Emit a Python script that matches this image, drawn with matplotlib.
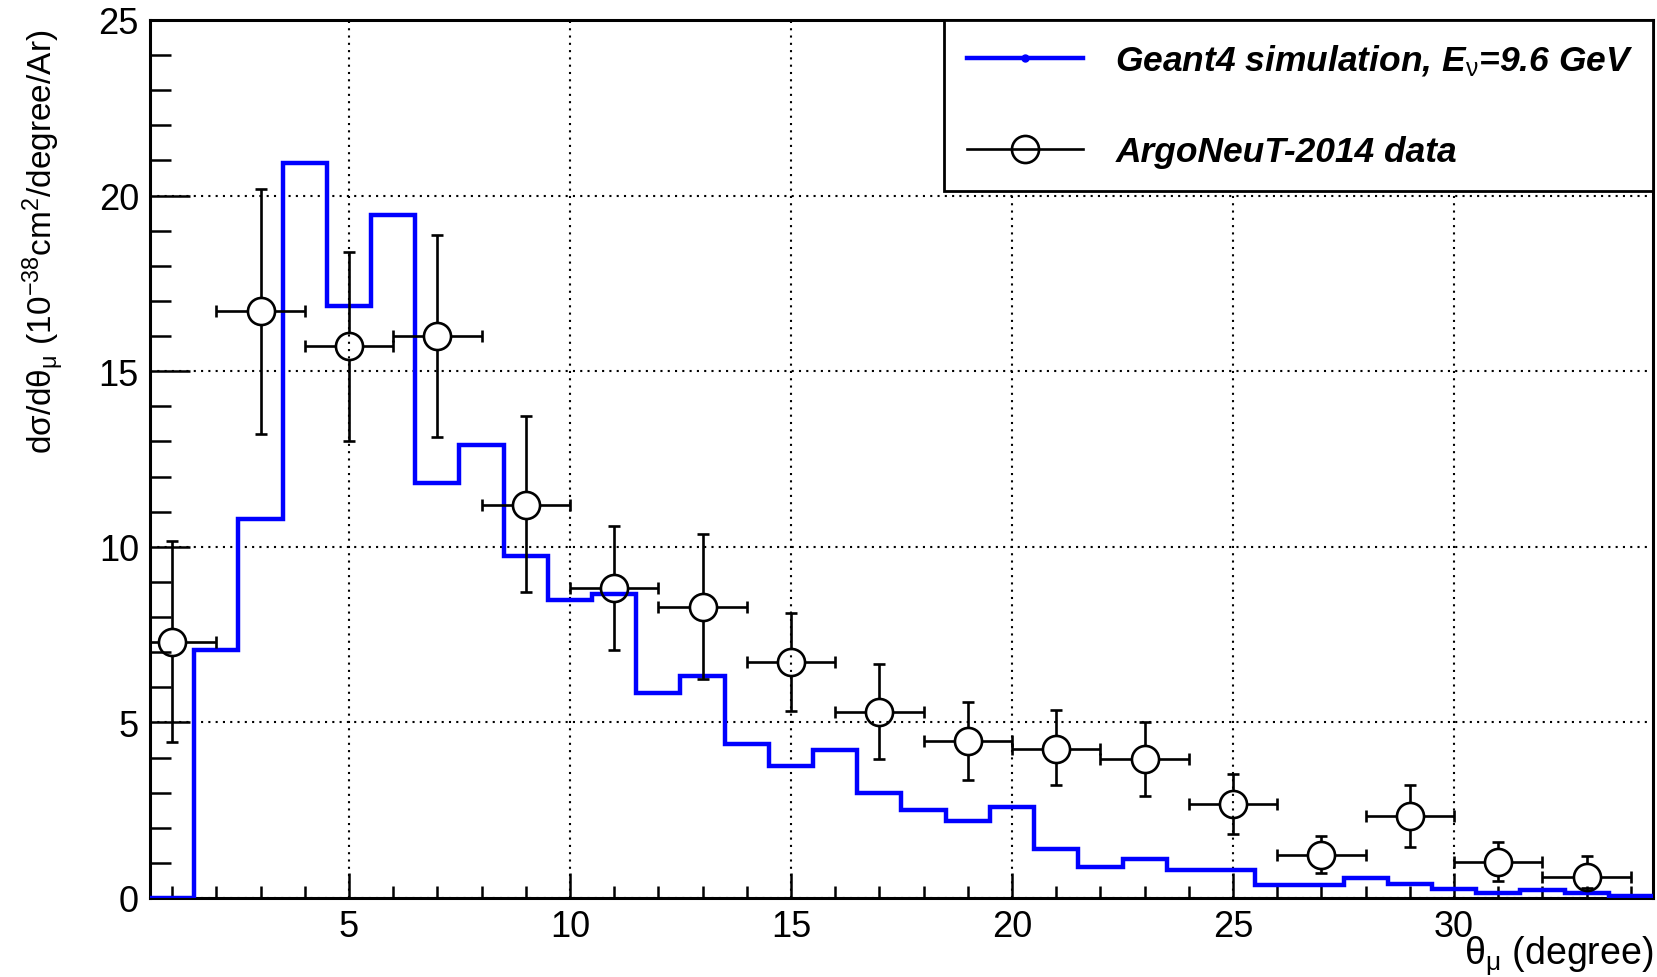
import numpy as np
import matplotlib
matplotlib.use('Agg')
import matplotlib.pyplot as plt
from matplotlib.lines import Line2D
from matplotlib.ticker import MultipleLocator

plt.rcParams['font.family'] = ['Liberation Sans', 'DejaVu Sans']
plt.rcParams['mathtext.fontset'] = 'custom'
plt.rcParams['mathtext.rm'] = 'Liberation Sans'
plt.rcParams['mathtext.it'] = 'Liberation Sans:italic'
plt.rcParams['mathtext.bf'] = 'Liberation Sans:bold'

# Geant4 histogram: 1 degree bins, 0.5 .. 34.5
sim_edges = np.arange(0.5, 35.0, 1.0)
sim_values = [0.0, 7.07, 10.79, 20.93, 16.85, 19.46, 11.83, 12.90, 9.75, 8.49,
              8.67, 5.83, 6.31, 4.38, 3.75, 4.20, 2.99, 2.51, 2.18, 2.60,
              1.40, 0.88, 1.11, 0.80, 0.80, 0.37, 0.37, 0.57, 0.40, 0.25,
              0.15, 0.23, 0.13, 0.06]

# ArgoNeuT-2014 data, 2 degree bins
data_x = [1, 3, 5, 7, 9, 11, 13, 15, 17, 19, 21, 23, 25, 27, 29, 31, 33]
data_xhw = [1.0] * 17
data_y = [7.30, 16.70, 15.71, 15.99, 11.19, 8.83, 8.29, 6.71, 5.30, 4.46,
          4.25, 3.95, 2.67, 1.23, 2.34, 1.03, 0.61]
data_yhi = [10.17, 20.19, 18.40, 18.89, 13.72, 10.59, 10.36, 8.12, 6.66, 5.57,
            5.34, 5.01, 3.52, 1.76, 3.22, 1.59, 1.20]
data_ylo = [4.45, 13.20, 13.01, 13.12, 8.70, 7.06, 6.23, 5.32, 3.95, 3.35,
            3.21, 2.91, 1.83, 0.70, 1.45, 0.48, 0.29]

W, H = 1658, 978
fig = plt.figure(figsize=(W / 100, H / 100), dpi=100)
ax_l, ax_r, ax_t, ax_b = 150, 1653, 21, 899
ax = fig.add_axes([ax_l / W, 1 - ax_b / H, (ax_r - ax_l) / W, (ax_b - ax_t) / H])

xmin, xmax, ymin, ymax = 0.5, 34.5, 0, 25
ax.set_xlim(xmin, xmax)
ax.set_ylim(ymin, ymax)

ax.grid(True, which='major', color='black', linestyle=(0, (1, 2.5)), linewidth=1.5)
ax.set_axisbelow(True)

ax.stairs(sim_values, sim_edges, color='#0000ff', linewidth=3.2, zorder=3)

# data points: hollow circles, error bars stop at the marker edge
x = np.array(data_x, float)
y = np.array(data_y)
yhi = np.array(data_yhi)
ylo = np.array(data_ylo)
xhw = np.array(data_xhw)
r_px = 13.5
ry = r_px * (ymax - ymin) / (ax_b - ax_t)
rx = r_px * (xmax - xmin) / (ax_r - ax_l)
ekw = dict(color='black', linewidth=1.9, zorder=4)
ax.vlines(x, np.minimum(ylo, y - ry), y - ry, **ekw)
ax.vlines(x, y + ry, np.maximum(yhi, y + ry), **ekw)
ax.hlines(y, x - xhw, x - rx, **ekw)
ax.hlines(y, x + rx, x + xhw, **ekw)
ax.plot(x, yhi, linestyle='none', marker='_', ms=8, mew=1.9, color='black', zorder=4)
ax.plot(x, ylo, linestyle='none', marker='_', ms=8, mew=1.9, color='black', zorder=4)
ax.plot(x - xhw, y, linestyle='none', marker='|', ms=8, mew=1.9, color='black', zorder=4)
ax.plot(x + xhw, y, linestyle='none', marker='|', ms=8, mew=1.9, color='black', zorder=4)
ax.plot(x, y, linestyle='none', marker='o', ms=19.5, mfc='none', mec='black', mew=1.9, zorder=5)

# axes styling (ROOT-like)
for s in ax.spines.values():
    s.set_linewidth(2.2)
ax.xaxis.set_major_locator(MultipleLocator(5))
ax.xaxis.set_minor_locator(MultipleLocator(1))
ax.yaxis.set_major_locator(MultipleLocator(5))
ax.yaxis.set_minor_locator(MultipleLocator(1))
ax.tick_params(axis='both', which='both', direction='in', width=1.8, labelsize=26,
               top=False, right=False)
ax.tick_params(axis='y', which='major', length=29, pad=8)
ax.tick_params(axis='y', which='minor', length=15)
ax.tick_params(axis='x', which='major', length=18, pad=8)
ax.tick_params(axis='x', which='minor', length=9)

ax.set_xlabel(r'$\mathrm{\theta}_{\mathrm{\mu}}$ (degree)', fontsize=27, loc='right')
ax.xaxis.set_label_coords(1.0, -0.040)
ax.set_ylabel(r'd$\mathrm{\sigma}$/d$\mathrm{\theta}_{\mathrm{\mu}}$ (10$^{\mathrm{-38}}$cm$^{\mathrm{2}}$/degree/Ar)',
              fontsize=24, loc='top')
ax.yaxis.set_label_coords(-0.056, 0.99)

h_sim = Line2D([], [], color='#0000ff', linewidth=3.2, marker='o', ms=5)
h_dat = Line2D([], [], color='black', linewidth=1.9, marker='o', ms=19.5,
               mfc='none', mec='black', mew=1.9)
leg = ax.legend([h_sim, h_dat],
                [r'Geant4 simulation, E$_{\mathrm{\nu}}$=9.6 GeV', 'ArgoNeuT-2014 data'],
                loc='upper left', bbox_to_anchor=(0.528, 0, 0.472, 1.0), mode='expand',
                prop=dict(weight='bold', style='italic', size=25.5),
                frameon=True, fancybox=False, edgecolor='black', framealpha=1,
                handlelength=3.3, handletextpad=0.9, labelspacing=1.6,
                borderpad=0.65, borderaxespad=0)
leg.get_frame().set_linewidth(2)
leg.set_zorder(10)

fig.savefig('out.png', dpi=100)
